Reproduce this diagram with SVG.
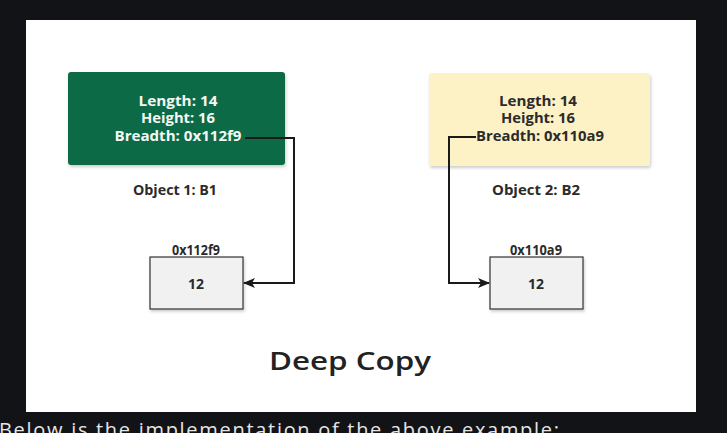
<svg xmlns="http://www.w3.org/2000/svg" width="727" height="433" viewBox="0 0 727 433">
<style>
.t{font-family:"Open Sans","Liberation Sans",sans-serif;font-weight:700;font-size:13.5px;text-anchor:middle;fill:#2b2b2b}
.w{fill:#f4f8f5}
.cell{fill:#f1f1f1;stroke:#333;stroke-width:1.2}
.c{fill:none;stroke:#1a1a1a;stroke-width:2}
</style>
<defs>
<filter id="sh" x="-10%" y="-10%" width="130%" height="140%">
<feDropShadow dx="1" dy="2" stdDeviation="1.5" flood-color="#000" flood-opacity="0.2"/>
</filter>
<marker id="ah" markerWidth="12" markerHeight="10" refX="11" refY="5" orient="auto" markerUnits="userSpaceOnUse">
<path d="M0,0 L12,5 L0,10 L3,5 Z" fill="#1a1a1a"/>
</marker>
</defs>
<rect x="0" y="0" width="727" height="433" fill="#121317"/>
<rect x="26" y="20" width="670" height="392" fill="#ffffff"/>
<g id="object1">
<rect x="68" y="72" width="217" height="93" rx="3" fill="#0b6b47" filter="url(#sh)"/>
<text class="t w" x="178" y="106" textLength="79" lengthAdjust="spacingAndGlyphs">Length: 14</text>
<text class="t w" x="178" y="123" textLength="74" lengthAdjust="spacingAndGlyphs">Height: 16</text>
<text class="t w" x="178" y="141" textLength="127" lengthAdjust="spacingAndGlyphs">Breadth: 0x112f9</text>
<text class="t" x="175" y="195" textLength="84" lengthAdjust="spacingAndGlyphs">Object 1: B1</text>
</g>
<g id="object2">
<rect x="429" y="73" width="221" height="93" rx="3" fill="#fdf2c6" filter="url(#sh)"/>
<text class="t" x="538" y="106" textLength="78" lengthAdjust="spacingAndGlyphs">Length: 14</text>
<text class="t" x="538" y="123" textLength="74" lengthAdjust="spacingAndGlyphs">Height: 16</text>
<text class="t" x="540" y="141" textLength="128" lengthAdjust="spacingAndGlyphs">Breadth: 0x110a9</text>
<text class="t" x="536" y="195" textLength="88" lengthAdjust="spacingAndGlyphs">Object 2: B2</text>
</g>
<g id="mem1">
<text class="t" x="196" y="255" textLength="48" lengthAdjust="spacingAndGlyphs">0x112f9</text>
<rect class="cell" x="150" y="257" width="93" height="52" filter="url(#sh)"/>
<text class="t" x="196" y="289" textLength="16" lengthAdjust="spacingAndGlyphs">12</text>
</g>
<g id="mem2">
<text class="t" x="536" y="255" textLength="52" lengthAdjust="spacingAndGlyphs">0x110a9</text>
<rect class="cell" x="490" y="257" width="93" height="52" filter="url(#sh)"/>
<text class="t" x="536" y="289" textLength="16" lengthAdjust="spacingAndGlyphs">12</text>
</g>
<g id="connectors">
<path class="c" d="M245,138 H294 V283 H244" marker-end="url(#ah)"/>
<path class="c" d="M476,137 H449 V283 H489" marker-end="url(#ah)"/>
</g>
<text x="350" y="370" font-family="Open Sans, Liberation Sans, sans-serif" font-weight="600" font-size="25" text-anchor="middle" fill="#222" textLength="162" lengthAdjust="spacingAndGlyphs">Deep Copy</text>
<text x="-1" y="437" font-family="Open Sans, Liberation Sans, sans-serif" font-size="20" fill="#e6e6e6" textLength="560">Below is the implementation of the above example:</text>
</svg>
